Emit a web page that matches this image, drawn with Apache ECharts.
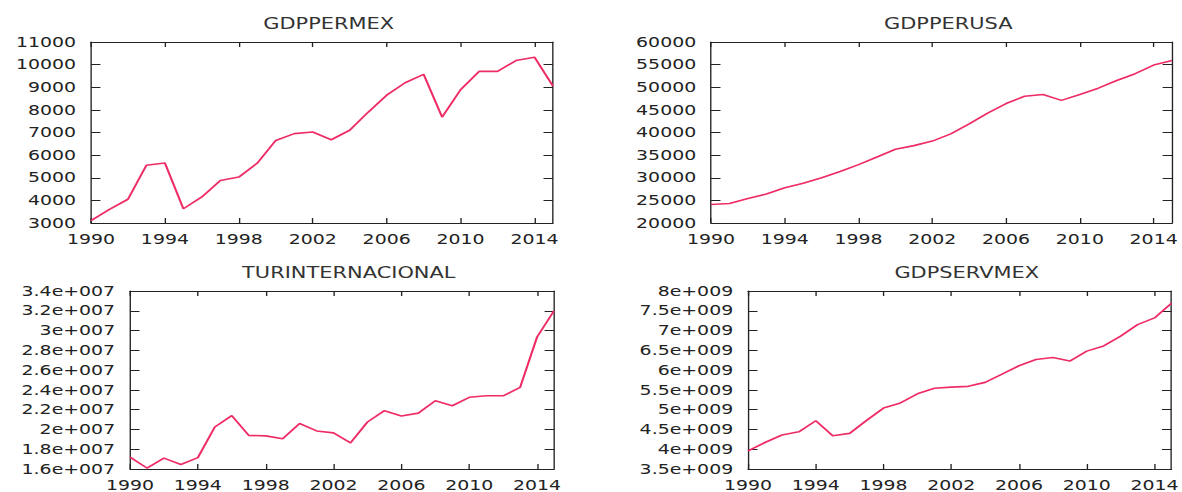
<!DOCTYPE html>
<html>
<head>
<meta charset="utf-8">
<script src="https://cdn.jsdelivr.net/npm/echarts@6/dist/echarts.min.js"></script>
<style>
  html, body { margin: 0; padding: 0; background: #fff; overflow: hidden; }
  #wrap { width: 1182px; height: 492px; overflow: hidden; }
  /* the plot is drawn on a narrower canvas and widened, giving the broad lettering */
  #chart { width: 876px; height: 492px; transform: scaleX(1.35); transform-origin: 0 0; }
</style>
</head>
<body>
<div id="wrap"><div id="chart"></div></div>
<script>
// Annual series, 1990-2015
const years = ['1990','1991','1992','1993','1994','1995','1996','1997','1998','1999',
               '2000','2001','2002','2003','2004','2005','2006','2007','2008','2009',
               '2010','2011','2012','2013','2014','2015'];

const gdpPerMex = [3100, 3600, 4050, 5550, 5650, 3630, 4150, 4880, 5030, 5650,
                   6650, 6950, 7020, 6680, 7100, 7900, 8650, 9200, 9570, 7680,
                   8890, 9700, 9700, 10180, 10330, 9050];

const gdpPerUsa = [24100, 24300, 25400, 26400, 27800, 28800, 30000, 31400, 32900, 34600,
                   36300, 37100, 38100, 39700, 41900, 44300, 46400, 48000, 48400, 47100,
                   48400, 49800, 51500, 53000, 54900, 55900];

const turInternacional = [17.2e6, 16.1e6, 17.1e6, 16.45e6, 17.15e6, 20.25e6, 21.4e6, 19.4e6, 19.35e6, 19.05e6,
                          20.6e6, 19.85e6, 19.65e6, 18.65e6, 20.75e6, 21.9e6, 21.35e6, 21.65e6, 22.9e6, 22.4e6,
                          23.25e6, 23.4e6, 23.4e6, 24.25e6, 29.35e6, 32.0e6];

const gdpServMex = [3.96e9, 4.17e9, 4.36e9, 4.44e9, 4.72e9, 4.34e9, 4.40e9, 4.73e9, 5.04e9, 5.17e9,
                    5.40e9, 5.54e9, 5.57e9, 5.59e9, 5.69e9, 5.90e9, 6.11e9, 6.27e9, 6.32e9, 6.23e9,
                    6.48e9, 6.61e9, 6.86e9, 7.15e9, 7.32e9, 7.69e9];

const titles = ['GDPPERMEX', 'GDPPERUSA', 'TURINTERNACIONAL', 'GDPSERVMEX'];

// y-axis ranges: [min, max, step]
const yRanges = [
  [3000, 11000, 1000],
  [20000, 60000, 5000],
  [16e6, 34e6, 2e6],
  [3.5e9, 8e9, 0.5e9]
];

// exponent style labels such as 3.4e+007
function expLabel(v) {
  if (v === 0) return '0';
  const e = Math.floor(Math.log10(Math.abs(v)) + 1e-9);
  const m = parseFloat((v / Math.pow(10, e)).toPrecision(6));
  return m + 'e+' + String(e).padStart(3, '0');
}
function plainLabel(v) { return String(Math.round(v)); }

const grids = [
  { left: 67.4,  top: 42,  width: 342.2, height: 181 },
  { left: 526.7, top: 42,  width: 341.5, height: 181 },
  { left: 96.3,  top: 291, width: 314.1, height: 180 },
  { left: 554.1, top: 291, width: 314.0, height: 180 }
];
const titleTops = [11, 11, 260, 260];
const seriesData = [gdpPerMex, gdpPerUsa, turInternacional, gdpServMex];
const labelFmt = [plainLabel, plainLabel, expLabel, expLabel];

const ink = '#222';
const font = 'DejaVu Sans';
const lineColor = '#ee2d66';

const option = {
  animation: false,
  backgroundColor: '#fff',
  title: [],
  grid: [],
  xAxis: [],
  yAxis: [],
  series: []
};

grids.forEach((g, i) => {
  option.grid.push(Object.assign({ containLabel: false }, g));
  option.title.push({
    text: titles[i],
    left: g.left + g.width / 2,
    top: titleTops[i],
    textAlign: 'center',
    textStyle: { fontFamily: font, fontSize: 15.5, fontWeight: 'normal', color: '#333' }
  });

  const xBase = {
    type: 'category',
    data: years,
    gridIndex: i,
    boundaryGap: false,
    axisLine: { onZero: false, lineStyle: { color: ink, width: 1 } },
    axisTick: { inside: true, length: 5, interval: 3, lineStyle: { color: ink } },
    splitLine: { show: false }
  };
  option.xAxis.push(Object.assign({}, xBase, {
    position: 'bottom',
    axisLabel: { interval: 3, margin: 9, color: ink, fontFamily: font, fontSize: 14 }
  }));
  option.xAxis.push(Object.assign({}, xBase, {
    position: 'top',
    axisLabel: { show: false }
  }));

  const r = yRanges[i];
  const yBase = {
    type: 'value',
    gridIndex: i,
    min: r[0], max: r[1], interval: r[2],
    axisLine: { show: true, onZero: false, lineStyle: { color: ink, width: 1 } },
    axisTick: { show: true, inside: true, length: 7, lineStyle: { color: ink } },
    splitLine: { show: false }
  };
  option.yAxis.push(Object.assign({}, yBase, {
    position: 'left',
    axisLabel: { margin: 11, color: ink, fontFamily: font, fontSize: 14, formatter: labelFmt[i] }
  }));
  option.yAxis.push(Object.assign({}, yBase, {
    position: 'right',
    axisLabel: { show: false }
  }));

  option.series.push({
    type: 'line',
    name: titles[i],
    xAxisIndex: i * 2,
    yAxisIndex: i * 2,
    data: seriesData[i],
    symbol: 'none',
    lineStyle: { color: lineColor, width: 1.6 },
    itemStyle: { color: lineColor }
  });
});

const chart = echarts.init(document.getElementById('chart'), null, { renderer: 'svg' });
chart.setOption(option);
</script>
</body>
</html>
